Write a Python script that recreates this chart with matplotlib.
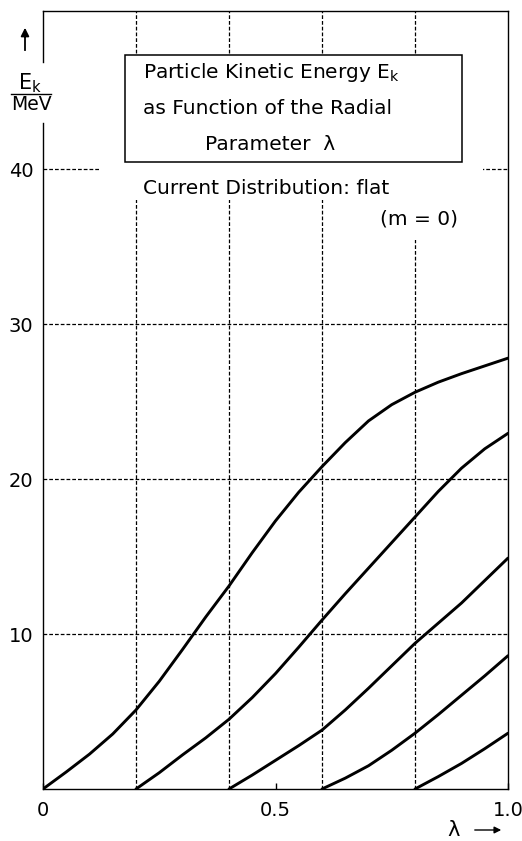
import numpy as np
import matplotlib.pyplot as plt
from matplotlib.patches import Rectangle
from matplotlib.lines import Line2D

# curves: E_k (MeV) against lambda, one curve per start point
lam_1 = [0.0, 0.05, 0.1, 0.15, 0.2, 0.25, 0.3, 0.35, 0.4, 0.45, 0.5, 0.55, 0.6, 0.65, 0.7, 0.75, 0.8, 0.85, 0.9, 0.95, 1.0]
ek_1 = [0.0, 1.1, 2.25, 3.55, 5.1, 6.95, 9.0, 11.1, 13.1, 15.25, 17.3, 19.15, 20.8, 22.35, 23.75, 24.8, 25.6, 26.25, 26.8, 27.3, 27.8]

lam_2 = [0.2, 0.25, 0.3, 0.35, 0.4, 0.45, 0.5, 0.55, 0.6, 0.65, 0.7, 0.75, 0.8, 0.85, 0.9, 0.95, 1.0]
ek_2 = [0.0, 1.05, 2.2, 3.3, 4.5, 5.9, 7.45, 9.15, 10.9, 12.6, 14.25, 15.9, 17.55, 19.2, 20.7, 21.95, 22.95]

lam_3 = [0.4, 0.45, 0.5, 0.55, 0.6, 0.65, 0.7, 0.75, 0.8, 0.85, 0.9, 0.95, 1.0]
ek_3 = [0.0, 0.9, 1.85, 2.8, 3.8, 5.1, 6.5, 7.95, 9.4, 10.7, 12.0, 13.45, 14.9]

lam_4 = [0.6, 0.65, 0.7, 0.75, 0.8, 0.85, 0.9, 0.95, 1.0]
ek_4 = [0.0, 0.7, 1.5, 2.5, 3.6, 4.8, 6.05, 7.3, 8.6]

lam_5 = [0.8, 0.85, 0.9, 0.95, 1.0]
ek_5 = [0.0, 0.8, 1.65, 2.6, 3.6]

x_grid = [0.2, 0.4, 0.6, 0.8]
y_grid = [10, 20, 30]
x_ticks = [0.0, 0.5, 1.0]
x_tick_labels = ['0', '0.5', '1.0']
y_ticks = [10, 20, 30, 40]
y_tick_labels = ['10', '20', '30', '40']

W, H = 522, 841
fig = plt.figure(figsize=(W / 100, H / 100), dpi=100)
ax = fig.add_axes([43 / W, 1 - 789 / H, (508 - 43) / W, (789 - 11) / H])
ax.set_xlim(0, 1.0)
ax.set_ylim(0, 50.2)

def fx(px):
    return px / W

def fy(py):
    return 1 - py / H

dash = (0, (3, 1.6))
for xv in x_grid:
    ax.axvline(xv, color='black', lw=0.9, ls=dash, zorder=1)
for yv in y_grid:
    ax.axhline(yv, color='black', lw=0.9, ls=dash, zorder=1)
ax.axhline(40, color='black', lw=0.9, ls=dash, zorder=1)

# white areas where the grid is broken by the labels
ax.add_patch(Rectangle((0.123, 38.0), 0.947 - 0.123, 40.5 - 38.0, facecolor='white', edgecolor='none', zorder=2))
ax.add_patch(Rectangle((0.70, 35.4), 0.947 - 0.70, 2.7, facecolor='white', edgecolor='none', zorder=2))
ax.add_patch(Rectangle((0.177, 40.45), 0.902 - 0.177, 47.35 - 40.45, facecolor='white', edgecolor='black', lw=1.1, zorder=2))

for lx, ly in [(lam_1, ek_1), (lam_2, ek_2), (lam_3, ek_3), (lam_4, ek_4), (lam_5, ek_5)]:
    ax.plot(lx, ly, color='black', lw=2.1, solid_capstyle='round', solid_joinstyle='round', zorder=3)

ax.set_xticks(x_ticks)
ax.set_xticklabels(x_tick_labels, fontsize=14)
ax.set_yticks(y_ticks)
ax.set_yticklabels(y_tick_labels, fontsize=14)
ax.tick_params(axis='x', direction='in', length=4, width=1, pad=9)
ax.tick_params(axis='y', length=0, pad=7)

for s in ['top', 'right', 'bottom']:
    ax.spines[s].set_linewidth(1.0)
ax.spines['left'].set_visible(False)
# left axis line, broken where the unit label sits
ax.plot([0, 0], [0, 43.0], color='black', lw=1.0, clip_on=False, zorder=5)
ax.plot([0, 0], [46.9, 50.2], color='black', lw=1.0, clip_on=False, zorder=5)

fs = 14.5
fig.text(fx(143), fy(72), r'Particle Kinetic Energy $\mathregular{E_k}$', fontsize=fs, va='center', ha='left')
fig.text(fx(143), fy(108), 'as Function of the Radial', fontsize=fs, va='center', ha='left')
fig.text(fx(205), fy(145), 'Parameter  λ', fontsize=fs, va='center', ha='left')
fig.text(fx(143), fy(188), 'Current Distribution: flat', fontsize=fs, va='center', ha='left')
fig.text(fx(380), fy(219), '(m = 0)', fontsize=fs, va='center', ha='left')

# unit label E_k / MeV with arrow
fig.text(fx(30), fy(83), r'$\mathregular{E_k}$', fontsize=15, ha='center', va='center')
fig.add_artist(Line2D([fx(11), fx(51)], [fy(94), fy(94)], color='black', lw=1.0))
fig.text(fx(31), fy(105), 'MeV', fontsize=13.5, ha='center', va='center')
fig.add_artist(Line2D([fx(25), fx(25)], [fy(50), fy(32)], color='black', lw=1.3))
ax.annotate('', xy=(fx(25), fy(25)), xytext=(fx(25), fy(40)), xycoords='figure fraction',
            arrowprops=dict(arrowstyle='-|>', color='black', lw=1.3, mutation_scale=12))

fig.text(fx(454), fy(830), 'λ', fontsize=15, ha='center', va='center')
ax.annotate('', xy=(fx(504), fy(830)), xytext=(fx(472), fy(830)), xycoords='figure fraction',
            arrowprops=dict(arrowstyle='-|>', color='black', lw=1.0, mutation_scale=10))

fig.savefig('out.png', dpi=100)
